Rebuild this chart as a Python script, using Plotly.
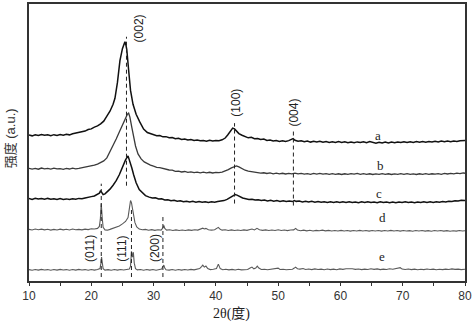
import plotly.graph_objects as go

# ---- data (2θ in degrees, intensity in arbitrary units, curves offset) ----
curve_a = [(10,147),(10.5,146.2),(11,147.3),(11.5,146.5),(12,147.6),(12.5,146.8),(13,147.2),(13.5,146.3),(14,147.4),(14.5,146.6),(15,147.5),(15.5,146.9),(16,147.8),(16.5,147.2),(17,148.3),(17.5,148.9),(18,149.2),(18.5,150.4),(19,151),(19.5,152.6),(20,153.2),(20.5,155),(21,156.2),(21.5,158.3),(22,161),(22.5,166),(23,171),(23.5,178),(23.8,184),(24.2,200),(24.6,222),(25,234),(25.2,239),(25.4,241),(25.55,238),(25.7,233),(26,212),(26.3,192),(26.7,178),(27.2,168),(27.8,160),(28.4,153),(29,149.5),(29.5,148.2),(30,147.4),(30.5,146.3),(31,146.6),(31.5,145.2),(32,145.4),(32.5,144.3),(33,144.6),(33.5,143.4),(34,143.7),(34.5,142.6),(35,143),(35.5,142),(36,142.5),(36.5,141.5),(37,142),(37.5,141.2),(38,141.6),(38.5,140.8),(39,141.7),(39.5,141),(40,141.6),(40.5,141.3),(41,142.2),(41.5,144),(41.9,147),(42.3,151),(42.7,154),(43,153.2),(43.3,151.5),(43.7,148.5),(44.2,146.8),(44.7,145.9),(45.2,144.2),(45.7,144.8),(46.2,143.4),(46.7,143.6),(47.2,142.5),(47.7,142.9),(48.2,141.6),(48.7,142),(49.2,141),(49.7,141.5),(50.2,140.6),(50.7,141.2),(51.2,140.5),(51.7,141.4),(52.1,142.2),(52.4,143.4),(52.7,141.8),(53.2,140.8),(53.7,141.2),(54.2,140.2),(54.7,140.9),(55.2,139.9),(55.7,140.7),(56.2,140),(56.7,140.8),(57.2,139.8),(57.7,140.5),(58.2,139.6),(58.7,140.3),(59.2,139.5),(59.7,140.4),(60.2,139.6),(60.7,140.2),(61.2,139.3),(61.7,140),(62.2,139.2),(62.7,140.1),(63.2,139.4),(63.7,140.2),(64.2,139.3),(64.7,140.4),(65.2,139.5),(65.7,138.8),(66.2,139.8),(66.7,139),(67.2,139.9),(67.7,139.1),(68.2,140),(68.7,139.3),(69.2,140.1),(69.7,139.4),(70.2,140.2),(70.7,139.5),(71.2,140.3),(71.7,139.6),(72.2,140.4),(72.7,139.7),(73.2,140.5),(73.7,139.8),(74.2,140.6),(74.7,140),(75.2,140.8),(75.7,140.1),(76.2,141),(76.7,140.3),(77.2,140.9),(77.7,140.2),(78.2,141),(78.7,140.6),(79.2,141.3),(79.7,141.6),(80,141.5)]

curve_b = [(10,113.5),(10.5,112.7),(11,113.4),(11.5,112.6),(12,113.8),(12.5,113),(13,113.5),(13.5,112.7),(14,113.6),(14.5,112.9),(15,113.2),(15.5,112.5),(16,113.4),(16.5,112.8),(17,113.6),(17.5,113),(18,113.5),(18.5,114.1),(19,114.4),(19.5,115),(20,115.6),(20.5,116.7),(21,117.8),(21.5,119.2),(22,121),(22.5,124),(23,130),(23.5,137),(24,143),(24.5,150),(25,157),(25.5,164),(25.8,168),(26,169),(26.2,165),(26.5,155),(26.8,145),(27.1,136),(27.5,128),(28,123),(28.5,120),(29,118),(29.5,116.8),(30,115.6),(30.5,114.5),(31,114.3),(31.5,113.2),(32,112.9),(32.5,111.8),(33,111.6),(33.5,110.5),(34,110.6),(34.5,109.8),(35,110.3),(35.5,109.5),(36,110),(36.5,109.2),(37,109.7),(37.5,109),(38,109.6),(38.5,108.9),(39,109.5),(39.5,108.8),(40,109.4),(40.5,109.1),(41,109.7),(41.5,110.8),(42,112.2),(42.5,114),(43,115.6),(43.3,116),(43.7,115),(44.2,113.2),(44.7,111.6),(45.2,110.6),(45.7,110.2),(46.2,109.3),(46.7,109.5),(47.2,108.6),(47.7,109),(48.2,108.3),(48.7,108.8),(49.2,108),(49.7,108.6),(50.2,107.9),(50.7,108.5),(51.2,107.8),(51.7,108.4),(52.2,108),(52.7,108.7),(53.2,107.9),(53.7,108.3),(54.2,107.6),(54.7,108.2),(55.2,107.5),(55.7,108.3),(56.2,107.7),(56.7,108.4),(57.2,107.6),(57.7,108.2),(58.2,107.4),(58.7,108.1),(59.2,107.5),(59.7,108),(60.2,107.3),(60.7,108),(61.2,107.4),(61.7,108.2),(62.2,107.6),(62.7,108.3),(63.2,107.5),(63.7,108.1),(64.2,107.4),(64.7,108),(65.2,107.3),(65.7,107.9),(66.2,107.5),(66.7,108.2),(67.2,107.4),(67.7,108),(68.2,107.3),(68.7,107.9),(69.2,107.4),(69.7,108.1),(70.2,107.5),(70.7,108.2),(71.2,107.4),(71.7,107.9),(72.2,107.3),(72.7,108),(73.2,107.5),(73.7,108.1),(74.2,107.4),(74.7,108),(75.2,107.6),(75.7,108.2),(76.2,107.5),(76.7,108.3),(77.2,107.8),(77.7,108.4),(78.2,107.9),(78.7,108.6),(79.2,108.2),(79.7,108.8),(80,108.5)]

curve_c = [(10,83),(10.5,82.2),(11,83.4),(11.5,82.5),(12,83.1),(12.5,82.3),(13,83.2),(13.5,82.4),(14,82.9),(14.5,82.1),(15,83),(15.5,82.2),(16,82.7),(16.5,82),(17,82.8),(17.5,82.3),(18,83.2),(18.5,82.9),(19,83.6),(19.5,84),(20,85),(20.5,85.6),(21,87),(21.3,88.5),(21.5,91),(21.7,89),(21.9,87),(22.2,87.8),(22.6,90),(23,92.5),(23.5,96.5),(24,101),(24.5,107),(25,115),(25.5,122),(25.9,126),(26.2,121),(26.5,114),(26.8,107),(27.2,99),(27.7,92),(28.2,88.5),(28.7,86),(29.3,84.5),(29.8,83.6),(30.3,83.8),(30.8,82.6),(31.3,82.8),(31.8,81.6),(32.3,81.9),(32.8,80.8),(33.3,81.2),(33.8,80.3),(34.3,80.8),(34.8,79.8),(35.3,80.4),(35.8,79.6),(36.3,80.2),(36.8,79.4),(37.3,80),(37.8,79.3),(38.3,79.9),(38.8,79.2),(39.3,79.8),(39.8,79.3),(40.3,80),(40.8,80.2),(41.3,81),(41.8,82.2),(42.3,84),(42.8,86.3),(43.1,87),(43.4,86.5),(43.8,85),(44.3,83.6),(44.8,82.9),(45.3,82.2),(45.8,82.4),(46.3,81.5),(46.8,81.9),(47.3,81),(47.8,81.5),(48.3,80.7),(48.8,81.2),(49.3,80.4),(49.8,81),(50.3,80.2),(50.8,80.8),(51.3,80),(51.8,80.6),(52.3,80),(52.6,81),(52.9,80.2),(53.4,80.5),(53.9,79.7),(54.4,80.3),(54.9,79.5),(55.4,80.2),(55.9,79.4),(56.4,80),(56.9,79.3),(57.4,79.9),(57.9,79.2),(58.4,79.8),(58.9,79.1),(59.4,79.7),(59.9,79),(60.4,79.8),(60.9,79.2),(61.4,79.9),(61.9,79.1),(62.4,79.6),(62.9,78.9),(63.4,79.7),(63.9,79),(64.4,79.8),(64.9,79.1),(65.4,79.5),(65.9,78.8),(66.4,79.9),(66.9,79),(67.4,79.6),(67.9,78.9),(68.4,79.5),(68.9,78.8),(69.4,79.6),(69.9,79),(70.4,79.7),(70.9,79.1),(71.4,79.5),(71.9,78.9),(72.4,79.6),(72.9,79),(73.4,79.8),(73.9,79.2),(74.4,79.7),(74.9,79.1),(75.4,79.9),(75.9,79.4),(76.4,80),(76.9,79.6),(77.4,80.4),(77.9,80.1),(78.4,80.8),(78.9,80.5),(79.4,81.3),(79.8,81.6),(80,81)]

curve_d = [(10,52),(10.5,51.4),(11,52.3),(11.5,51.6),(12,52.2),(12.5,51.5),(13,52.1),(13.5,51.3),(14,52),(14.5,51.4),(15,52.2),(15.5,51.5),(16,52.1),(16.5,51.4),(17,52.3),(17.5,51.6),(18,52),(18.5,51.5),(19,52.2),(19.5,51.8),(20,52.6),(20.5,52.4),(21,53),(21.3,55),(21.45,62),(21.6,78),(21.75,64),(21.9,54),(22.2,51.5),(22.6,51.2),(23,52),(23.5,53),(24,54),(24.5,55.5),(25,57.5),(25.5,60),(25.9,64),(26.1,72),(26.3,81),(26.45,79),(26.6,73),(26.8,66),(27,59),(27.3,54.5),(27.7,52.3),(28.2,51.6),(28.7,52),(29.2,51.2),(29.7,51.7),(30.2,51),(30.7,51.6),(31.2,51.3),(31.5,53.5),(31.65,56),(31.8,53),(32.1,51.2),(32.6,51.6),(33.1,50.9),(33.6,51.5),(34.1,50.8),(34.6,51.4),(35.1,50.9),(35.6,51.5),(36.1,51),(36.6,51.6),(37.1,51.3),(37.6,52.4),(37.9,53.2),(38.15,52.4),(38.4,53),(38.8,51.6),(39.3,51.2),(39.8,51.6),(40.1,52.5),(40.4,54),(40.7,52),(41,51.2),(41.5,51.6),(42,50.9),(42.5,51.5),(43,50.8),(43.5,51.4),(44,50.9),(44.5,51.5),(45,51),(45.5,51.8),(45.8,52.3),(46.2,51.4),(46.6,53),(47,51.6),(47.5,51),(48,51.5),(48.5,50.8),(49,51.4),(49.5,50.9),(50,51.6),(50.5,50.8),(51,51.4),(51.5,50.7),(52,51.3),(52.5,51.5),(52.8,53),(53.1,51.4),(53.6,50.6),(54.1,51.2),(54.6,50.5),(55.1,51.1),(55.6,50.4),(56.1,51),(56.6,50.6),(57.1,51.2),(57.6,50.5),(58.1,51),(58.6,50.3),(59.1,50.9),(59.6,50.4),(60.1,51),(60.6,50.3),(61.1,50.8),(61.6,50.2),(62.1,50.9),(62.6,50.4),(63.1,51),(63.6,50.3),(64.1,50.8),(64.6,50.2),(65.1,50.9),(65.6,50.3),(66.1,50.8),(66.6,50.2),(67.1,50.9),(67.6,50.4),(68.1,51),(68.6,50.3),(69.1,50.8),(69.6,50.2),(70.1,50.9),(70.6,50.3),(71.1,50.7),(71.6,50.1),(72.1,50.8),(72.6,50.3),(73.1,50.9),(73.6,50.2),(74.1,50.7),(74.6,50.1),(75.1,50.8),(75.6,50.3),(76.1,50.9),(76.6,50.2),(77.1,50.7),(77.6,50.1),(78.1,50.6),(78.6,50.2),(79.1,50.8),(79.6,50.4),(80,50.6)]

curve_e = [(10,11.5),(10.5,10.9),(11,11.6),(11.5,11),(12,11.7),(12.5,11.1),(13,11.5),(13.5,10.9),(14,11.6),(14.5,11),(15,11.7),(15.5,11.1),(16,11.5),(16.5,10.9),(17,11.6),(17.5,11),(18,11.7),(18.5,11.1),(19,11.5),(19.5,10.9),(20,11.6),(20.5,11),(21,11.5),(21.4,12.5),(21.55,18),(21.65,24),(21.75,19),(21.9,12.5),(22.2,11),(22.7,11.4),(23.2,10.9),(23.7,11.5),(24.2,11),(24.7,11.6),(25.2,11.1),(25.7,11.5),(26.1,12),(26.3,15),(26.45,30),(26.6,24),(26.75,29),(26.9,18),(27.1,12.5),(27.4,11.2),(27.9,11.6),(28.4,10.9),(28.9,11.5),(29.4,11),(29.9,11.6),(30.4,10.9),(30.9,11.4),(31.3,12),(31.5,14.5),(31.65,16),(31.8,13),(32,11.3),(32.5,11),(33,11.6),(33.5,10.9),(34,11.5),(34.5,11),(35,11.6),(35.5,11.1),(36,11.7),(36.5,11.2),(37,11.6),(37.4,12.5),(37.7,14.5),(37.9,16),(38.15,14),(38.4,15),(38.7,12.5),(39.1,11.5),(39.6,11.8),(40.1,12.6),(40.4,17),(40.7,12.5),(41.1,11.4),(41.6,11.8),(42.1,11.2),(42.6,11.7),(43.1,11.1),(43.6,11.8),(44.1,11.2),(44.6,11.7),(45.1,11.5),(45.5,13),(45.8,14),(46.1,12.3),(46.4,13),(46.65,15),(46.9,13),(47.3,11.6),(47.8,11.9),(48.3,11.3),(48.8,11.8),(49.3,11.6),(49.7,12.6),(50,13),(50.3,11.6),(50.8,11.9),(51.3,11.3),(51.8,11.8),(52.3,11.9),(52.6,13),(52.8,14),(53.1,12.4),(53.5,12),(54,12.6),(54.4,11.6),(54.9,12.1),(55.4,11.5),(55.9,12.2),(56.4,11.6),(56.9,12),(57.4,11.4),(57.9,12.1),(58.4,11.5),(58.9,12),(59.4,11.4),(59.9,12.2),(60.4,11.7),(60.9,12.3),(61.4,12.6),(61.9,12.4),(62.4,11.7),(62.9,12.1),(63.4,11.5),(63.9,12),(64.4,11.6),(64.9,12.3),(65.4,11.7),(65.9,12.2),(66.4,11.5),(66.9,12),(67.4,11.6),(67.9,12.3),(68.4,11.8),(68.9,12.4),(69.3,12.6),(69.6,13.4),(69.9,12),(70.4,11.6),(70.9,12.1),(71.4,11.5),(71.9,12),(72.4,11.4),(72.9,11.9),(73.4,11.5),(73.9,12.1),(74.4,11.6),(74.9,12),(75.4,11.4),(75.9,11.9),(76.4,11.5),(76.9,12),(77.4,11.6),(77.9,12.2),(78.4,11.7),(78.9,12),(79.4,11.5),(80,11.8)]

curve_names = ["a", "b", "c", "d", "e"]
curve_colors = ["#111111", "#3a3a3a", "#111111", "#5a5a5a", "#5a5a5a"]
curve_widths = [1.5, 1.3, 1.5, 1.1, 1.1]

# reference (hkl) positions: x, y-bottom, y-top
ref_labels = ["(002)", "(100)", "(004)", "(011)", "(111)", "(200)"]
ref_x = [25.65, 43.0, 52.45, 21.6, 26.45, 31.5]
ref_y0 = [96, 78, 76, 4, 4, 4]
ref_y1 = [246, 159, 153, 98, 72, 66]
ref_text_x = [27.6, 43.3, 52.6, 19.9, 25.0, 30.2]
ref_text_y = [254, 180, 170, 33, 33, 33]

letter_x = [66.1, 66.4, 66.2, 66.7, 66.7]
letter_y = [147, 116, 88, 64, 25]

x_ticks = [10, 20, 30, 40, 50, 60, 70, 80]

fig = go.Figure()
for name, data, col, w in zip(curve_names, [curve_a, curve_b, curve_c, curve_d, curve_e],
                              curve_colors, curve_widths):
    fig.add_trace(go.Scatter(x=[p[0] for p in data], y=[p[1] for p in data], mode="lines",
                             line=dict(color=col, width=w), name=name, showlegend=False,
                             hoverinfo="skip"))

for rx, y0, y1 in zip(ref_x, ref_y0, ref_y1):
    fig.add_trace(go.Scatter(x=[rx, rx], y=[y0, y1], mode="lines",
                             line=dict(color="#222222", width=1, dash="4px,3px"),
                             showlegend=False, hoverinfo="skip"))

annotations = []
for t, tx, ty in zip(ref_labels, ref_text_x, ref_text_y):
    annotations.append(dict(x=tx, y=ty, text=t, showarrow=False, textangle=-90,
                            xanchor="center", yanchor="middle",
                            font=dict(family="Liberation Sans, Arial", size=12, color="#222222")))
for t, lx, ly in zip(curve_names, letter_x, letter_y):
    annotations.append(dict(x=lx, y=ly, text=t, showarrow=False,
                            xanchor="center", yanchor="middle",
                            font=dict(family="Liberation Serif, Times New Roman", size=13, color="#222222")))
annotations.append(dict(x=0.4645, y=-0.118, xref="paper", yref="paper", text="2θ(度)",
                        showarrow=False, xanchor="center", yanchor="middle",
                        font=dict(family="Liberation Serif, Noto Sans CJK SC", size=14, color="#222222")))
annotations.append(dict(x=-0.043, y=0.516, xref="paper", yref="paper", text="强度 (a.u.)",
                        showarrow=False, textangle=-90, xanchor="center", yanchor="middle",
                        font=dict(family="Liberation Sans, Noto Sans CJK SC", size=13, color="#333333")))

fig.update_layout(
    width=474, height=323,
    margin=dict(l=29, r=8, t=2, b=42),
    paper_bgcolor="white", plot_bgcolor="white",
    annotations=annotations,
    xaxis=dict(range=[10, 80], tickvals=x_ticks, ticks="outside", ticklen=3, tickwidth=1,
               tickcolor="#333333", showline=True, linecolor="#333333", linewidth=1.5,
               mirror=True, showgrid=False, zeroline=False,
               tickfont=dict(family="Liberation Sans, Arial", size=12, color="#333333"),
               minor=dict(dtick=5, tick0=10, ticks="outside", ticklen=3, tickcolor="#333333")),
    yaxis=dict(range=[0, 279], showticklabels=False, ticks="", showline=True,
               linecolor="#333333", linewidth=1.5, mirror=True, showgrid=False, zeroline=False),
)

fig.write_html("out.html", config={"displayModeBar": False},
               post_script="document.body.style.margin='0px';document.body.style.padding='0px';")
